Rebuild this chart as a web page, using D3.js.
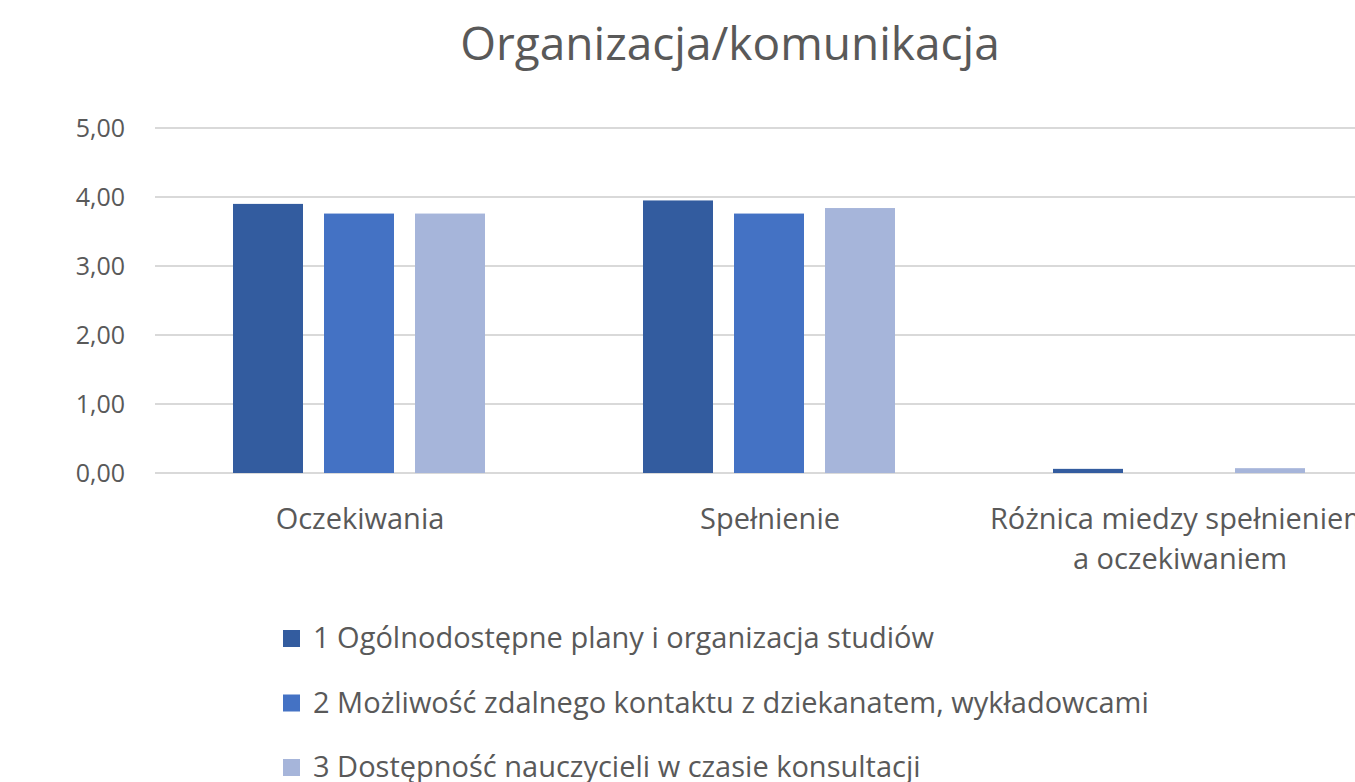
<!DOCTYPE html>
<html>
<head>
<meta charset="utf-8">
<script src="https://cdn.jsdelivr.net/npm/d3@7"></script>
<style>
  body { margin: 0; background: #fff; }
  svg { display: block; font-family: "Open Sans", Lato, sans-serif; }
</style>
</head>
<body>
<div id="chart"></div>
<script>
// data
var categories = ["Oczekiwania", "Spełnienie", "Różnica miedzy spełnieniem a oczekiwaniem"];
var series = [
    "1 Ogólnodostępne plany i organizacja studiów",
    "2 Możliwość zdalnego kontaktu z dziekanatem, wykładowcami",
    "3 Dostępność nauczycieli w czasie konsultacji"
];
// values[series][category]
var values = [
    [3.90, 3.95, 0.06],
    [3.76, 3.76, 0.00],
    [3.76, 3.84, 0.07]
];
var yTicks = [0, 1, 2, 3, 4, 5];
var colors = ["#335c9f", "#4472c4", "#a6b5da"];

var w = 1355, h = 782;
var left = 155, bandW = 410;
var yTop = 128, yBottom = 473;

var svg = d3.select("#chart").append("svg")
    .attr("width", w).attr("height", h);

// title
svg.append("text")
    .attr("x", 730).attr("y", 60)
    .attr("text-anchor", "middle")
    .attr("fill", "#595959")
    .style("font-size", "46px")
    .text("Organizacja/komunikacja");

var x0 = d3.scaleBand()
    .domain(categories)
    .range([left, left + bandW * categories.length])
    .padding(0);

var x1 = d3.scaleBand()
    .domain(d3.range(series.length))
    .range([78, 330])
    .paddingInner(0.2308)
    .paddingOuter(0);

var y = d3.scaleLinear().domain([0, 5]).range([yBottom, yTop]);

// gridlines
svg.append("g").selectAll("line")
    .data(yTicks)
    .enter().append("line")
    .attr("x1", left).attr("x2", w)
    .attr("y1", function(d) { return y(d); })
    .attr("y2", function(d) { return y(d); })
    .attr("stroke", "#d9d9d9")
    .attr("stroke-width", 2);

// y axis labels
var fmt = function(d) { return d3.format(".2f")(d).replace(".", ","); };
svg.append("g").selectAll("text")
    .data(yTicks)
    .enter().append("text")
    .attr("x", 125)
    .attr("y", function(d) { return y(d); })
    .attr("dy", "0.35em")
    .attr("text-anchor", "end")
    .attr("fill", "#595959")
    .style("font-size", "25px")
    .text(fmt);

// bars
var groups = svg.append("g").selectAll("g")
    .data(categories)
    .enter().append("g")
    .attr("transform", function(d) { return "translate(" + x0(d) + ",0)"; });

groups.selectAll("rect")
    .data(function(d, ci) {
        return series.map(function(s, si) { return { si: si, v: values[si][ci] }; });
    })
    .enter().append("rect")
    .attr("x", function(d) { return x1(d.si); })
    .attr("width", x1.bandwidth())
    .attr("y", function(d) { return y(d.v); })
    .attr("height", function(d) { return y(0) - y(d.v); })
    .attr("fill", function(d) { return colors[d.si]; });

// category labels (wrapped)
var catLines = [["Oczekiwania"], ["Spełnienie"], ["Różnica miedzy spełnieniem", "a oczekiwaniem"]];
svg.append("g").selectAll("text")
    .data(categories)
    .enter().append("text")
    .attr("x", function(d) { return x0(d) + bandW / 2; })
    .attr("y", 529)
    .attr("text-anchor", "middle")
    .attr("fill", "#595959")
    .style("font-size", "29px")
    .each(function(d, i) {
        var t = d3.select(this);
        catLines[i].forEach(function(line, li) {
            t.append("tspan")
                .attr("x", x0(d) + bandW / 2)
                .attr("dy", li === 0 ? 0 : 40)
                .text(line);
        });
    });

// legend
var legend = svg.append("g").selectAll("g")
    .data(series)
    .enter().append("g")
    .attr("transform", function(d, i) { return "translate(283," + (638.5 + i * 64.5) + ")"; });

legend.append("rect")
    .attr("x", 0).attr("y", -8.5)
    .attr("width", 17).attr("height", 17)
    .attr("fill", function(d, i) { return colors[i]; });

legend.append("text")
    .attr("x", 30).attr("y", 9.5)
    .attr("fill", "#595959")
    .style("font-size", "29px")
    .text(function(d) { return d; });
</script>
</body>
</html>
